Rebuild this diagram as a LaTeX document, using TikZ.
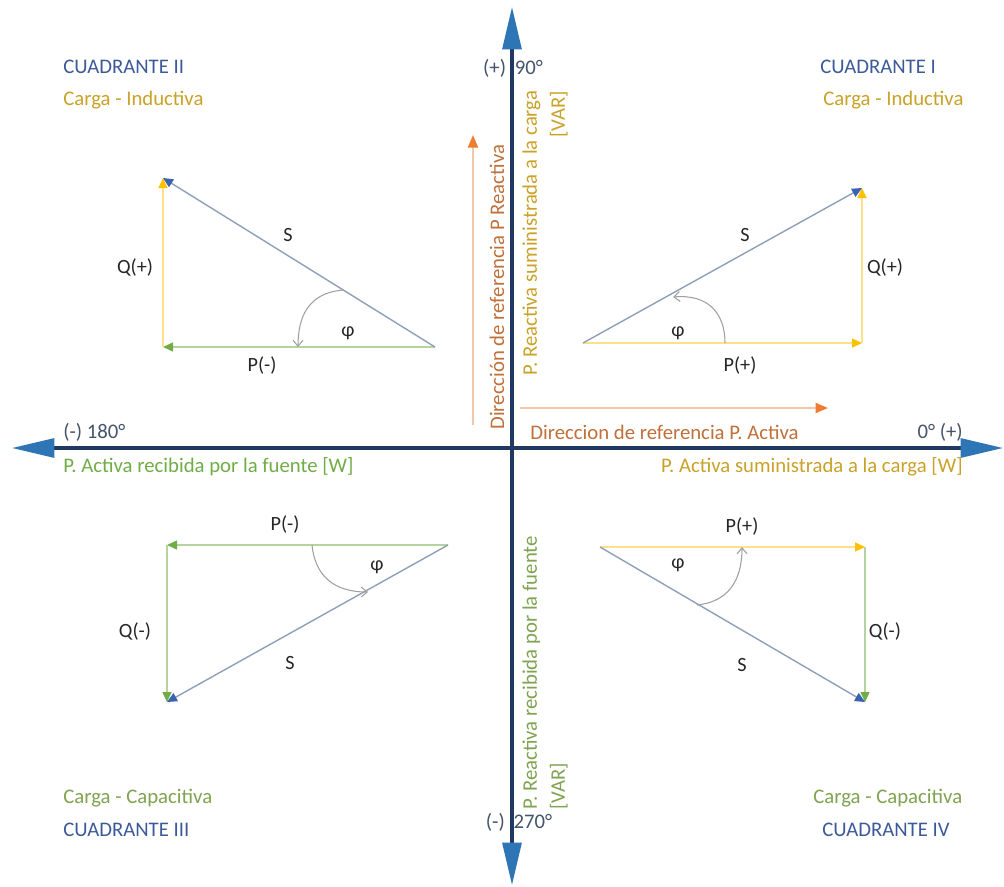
\documentclass[tikz,border=0pt]{standalone}
\usepackage{fontspec}
\setmainfont{Carlito}
\usepackage{xcolor}
\usetikzlibrary{arrows.meta,positioning,calc}

\definecolor{axisnavy}{HTML}{1F3864}
\definecolor{axisblue}{HTML}{2E75B6}
\definecolor{quadblue}{HTML}{3C5A99}
\definecolor{indgold}{HTML}{C9A227}
\definecolor{capgreen}{HTML}{7FA350}
\definecolor{refbrown}{HTML}{C0703A}
\definecolor{reforange}{HTML}{ED7D31}
\definecolor{reflight}{HTML}{F4C7A8}
\definecolor{sline}{HTML}{8FA0BA}
\definecolor{shead}{HTML}{3A62B0}
\definecolor{yline}{HTML}{FFE08A}
\definecolor{yhead}{HTML}{FFC000}
\definecolor{gline}{HTML}{B5D39C}
\definecolor{ghead}{HTML}{70AD47}
\definecolor{arcgray}{HTML}{A0A0A0}
\definecolor{labgray}{HTML}{44546A}

\begin{document}
\begin{tikzpicture}[
  x=0.02cm, y=-0.02cm,
  txt/.style={font=\fontsize{11.8}{16}\selectfont, inner sep=0pt},
  lab/.style={font=\fontsize{11.5}{14}\selectfont, inner sep=0pt, text=black!85},
  axis/.style={line width=1.8pt, draw=axisnavy,
    {Triangle[length=0.85cm,width=0.38cm,color=axisblue]}-{Triangle[length=0.85cm,width=0.38cm,color=axisblue]}},
  sarrow/.style={draw=sline, line width=0.8pt, -{Triangle[length=0.2cm,width=0.18cm,color=shead]}},
  yarrow/.style={draw=yline, line width=0.8pt, -{Triangle[length=0.2cm,width=0.18cm,color=yhead]}},
  garrow/.style={draw=gline, line width=0.8pt, -{Triangle[length=0.2cm,width=0.18cm,color=ghead]}},
  refarrow/.style={draw=reflight, line width=1.2pt, -{Triangle[length=0.25cm,width=0.2cm,color=reforange]}},
  angarc/.style={draw=arcgray, line width=0.6pt, -{Straight Barb[length=0.12cm,width=0.2cm]}}
]
  \fill[white] (0,0) rectangle (1004,886);
  \useasboundingbox (0,0) rectangle (1004,886);

  \coordinate (xl) at (12,448);
  \coordinate (xr) at (1003,448);
  \coordinate (yt) at (512,7);
  \coordinate (yb) at (512,885);
  \draw[axis] (xl) -- (xr);
  \draw[axis] (yb) -- (yt);

  \coordinate (refP0) at (520,408);
  \coordinate (refP1) at (828,408);
  \coordinate (refQ0) at (473,425);
  \coordinate (refQ1) at (473,135);
  \draw[refarrow] (refP0) -- (refP1);
  \draw[refarrow] (refQ0) -- (refQ1);

  \node[txt, text=labgray] (ang90) at (513,68) {(+)\hspace{5pt}90°};
  \node[txt, text=labgray] (ang270) at (519,822) {(-)\hspace{5pt}270°};
  \node[txt, text=labgray, anchor=west] (ang180) at (63,432) {(-) 180°};
  \node[txt, text=labgray, anchor=east] (ang0) at (963,432) {0° (+)};

  \node[txt, text=ghead, anchor=west] (pin) at (63,467) {P. Activa recibida por la fuente [W]};
  \node[txt, text=indgold, anchor=east] (pout) at (963,467) {P. Activa suministrada a la carga [W]};
  \node[txt, text=refbrown, anchor=west] (dirP) at (530,432) {Direccion de referencia P. Activa};
  \node[txt, text=refbrown, rotate=90, anchor=west] (dirQ) at (497,430) {Dirección de referencia P Reactiva};
  \node[txt, text=indgold, rotate=90, anchor=north west, align=right] (qout) at (522,376)
    {P. Reactiva suministrada a la carga\\{}[VAR]};
  \node[txt, text=capgreen, rotate=90, anchor=north west, align=left] (qin) at (522,810)
    {P. Reactiva recibida por la fuente\\{}[VAR]};

  \node[txt, text=quadblue, anchor=west] (cuadII) at (63,67) {CUADRANTE II};
  \node[txt, text=indgold, anchor=west] (indII) at (63,100) {Carga - Inductiva};
  \node[txt, text=quadblue, anchor=west] (cuadI) at (820,67) {CUADRANTE I};
  \node[txt, text=indgold, anchor=west] (indI) at (823,100) {Carga - Inductiva};
  \node[txt, text=capgreen, anchor=west] (capIII) at (63,798) {Carga - Capacitiva};
  \node[txt, text=quadblue, anchor=west] (cuadIII) at (63,830) {CUADRANTE III};
  \node[txt, text=capgreen, anchor=west] (capIV) at (813,798) {Carga - Capacitiva};
  \node[txt, text=quadblue, anchor=west] (cuadIV) at (822,830) {CUADRANTE IV};

  % cuadrante I
  \coordinate (oI) at (583,343);
  \coordinate (cI) at (862,343);
  \coordinate (tI) at (862,188);
  \draw[yarrow] (oI) -- (cI);
  \draw[yarrow] (cI) -- (tI);
  \draw[sarrow] (oI) -- (tI);
  \coordinate (aI) at (673,297);
  \coordinate (bI) at (725,343);
  \draw[angarc] (bI) .. controls +(0,-30) and +(35,-3) .. (aI);
  \node[lab] (sI) at (745,235) {S};
  \node[lab] (qI) at (885,268) {Q(+)};
  \node[lab] (pI) at (740,366) {P(+)};
  \node[lab] (phiI) at (678,333) {φ};

  % cuadrante II
  \coordinate (oII) at (435,347);
  \coordinate (cII) at (163,347);
  \coordinate (tII) at (163,178);
  \draw[garrow] (oII) -- (cII);
  \draw[yarrow] (cII) -- (tII);
  \draw[sarrow] (oII) -- (tII);
  \coordinate (aII) at (343,290);
  \coordinate (bII) at (298,347);
  \draw[angarc] (aII) .. controls +(-35,3) and +(0,-30) .. (bII);
  \node[lab] (sII) at (288,235) {S};
  \node[lab] (qII) at (135,268) {Q(+)};
  \node[lab] (pII) at (262,366) {P(-)};
  \node[lab] (phiII) at (348,333) {φ};

  % cuadrante III
  \coordinate (oIII) at (448,545);
  \coordinate (cIII) at (167,545);
  \coordinate (tIII) at (167,702);
  \draw[garrow] (oIII) -- (cIII);
  \draw[garrow] (cIII) -- (tIII);
  \draw[sarrow] (oIII) -- (tIII);
  \coordinate (aIII) at (312,545);
  \coordinate (bIII) at (368,592);
  \draw[angarc] (aIII) .. controls +(3,30) and +(-35,0) .. (bIII);
  \node[lab] (sIII) at (290,663) {S};
  \node[lab] (qIII) at (135,632) {Q(-)};
  \node[lab] (pIII) at (285,525) {P(-)};
  \node[lab] (phiIII) at (377,567) {φ};

  % cuadrante IV
  \coordinate (oIV) at (600,547);
  \coordinate (cIV) at (865,547);
  \coordinate (tIV) at (865,702);
  \draw[yarrow] (oIV) -- (cIV);
  \draw[garrow] (cIV) -- (tIV);
  \draw[sarrow] (oIV) -- (tIV);
  \coordinate (aIV) at (697,605);
  \coordinate (bIV) at (742,547);
  \draw[angarc] (aIV) .. controls +(30,-3) and +(0,35) .. (bIV);
  \node[lab] (sIV) at (742,665) {S};
  \node[lab] (qIV) at (885,632) {Q(-)};
  \node[lab] (pIV) at (742,527) {P(+)};
  \node[lab] (phiIV) at (678,565) {φ};
\end{tikzpicture}
\end{document}
